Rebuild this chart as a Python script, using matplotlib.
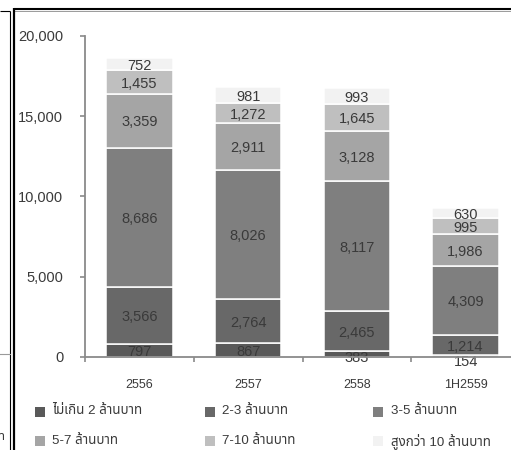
import matplotlib
matplotlib.use("Agg")
import matplotlib.pyplot as plt
import numpy as np
from matplotlib.lines import Line2D
from matplotlib.patches import Rectangle

# ---- data -------------------------------------------------------------
periods = ["2556", "2557", "2558", "1H2559"]
series_names = [
    "ไม่เกิน 2 ล้านบาท",
    "2-3 ล้านบาท",
    "3-5 ล้านบาท",
    "5-7 ล้านบาท",
    "7-10 ล้านบาท",
    "สูงกว่า 10 ล้านบาท",
]
under_2m = [797, 867, 383, 154]
from_2_to_3m = [3566, 2764, 2465, 1214]
from_3_to_5m = [8686, 8026, 8117, 4309]
from_5_to_7m = [3359, 2911, 3128, 1986]
from_7_to_10m = [1455, 1272, 1645, 995]
over_10m = [752, 981, 993, 630]
series_values = [under_2m, from_2_to_3m, from_3_to_5m,
                 from_5_to_7m, from_7_to_10m, over_10m]
series_colors = ["#595959", "#686868", "#7f7f7f", "#a5a5a5", "#bfbfbf", "#f2f2f2"]
y_ticks = [0, 5000, 10000, 15000, 20000]

# ---- styling ----------------------------------------------------------
NUM_FONT = ["Liberation Sans", "DejaVu Sans"]
THAI_FONT = ["Liberation Sans", "Noto Sans Thai", "DejaVu Sans"]
TEXT_COLOR = "#3a3a3a"
AXIS_COLOR = "#8a8a8a"

W, H = 511, 450
fig = plt.figure(figsize=(W / 100, H / 100), dpi=100)


def fx(px):
    return px / W


def fy(py):
    return 1 - py / H


ax = fig.add_axes([fx(85), fy(357), fx(520) - fx(85), fy(36) - fy(357)])
ax.set_xlim(-0.5, len(periods) - 0.5)
ax.set_ylim(0, 20000)

x = np.arange(len(periods))
bar_w = 0.61
bottom = np.zeros(len(periods))
fig.canvas.draw()
px_per_unit = (ax.transData.transform((0, 1000))[1] - ax.transData.transform((0, 0))[1]) / 1000
text_h_px = 11.0

for vals, color in zip(series_values, series_colors):
    vals = np.asarray(vals, dtype=float)
    ax.bar(x, vals, bar_w, bottom=bottom, color=color,
           edgecolor="white", linewidth=1.1, zorder=2)
    for xi, v, b in zip(x, vals, bottom):
        seg_px = v * px_per_unit
        shift_px = 1.8 + max(0.0, (text_h_px - seg_px) / 2)
        ax.annotate(f"{int(v):,}", xy=(xi, b + v / 2),
                    xytext=(0, -shift_px * 72 / 100), textcoords="offset points",
                    ha="center", va="center", fontsize=10.5,
                    family=NUM_FONT, color=TEXT_COLOR, zorder=3,
                    annotation_clip=False)
    bottom = bottom + vals

# axes
for side in ("top", "right"):
    ax.spines[side].set_visible(False)
for side in ("left", "bottom"):
    ax.spines[side].set_color(AXIS_COLOR)
    ax.spines[side].set_linewidth(1.3)
    ax.spines[side].set_zorder(4)

ax.set_yticks(y_ticks)
ax.set_yticklabels([f"{t:,}" for t in y_ticks], family=NUM_FONT,
                   fontsize=10.5, color=TEXT_COLOR)
ax.tick_params(axis="y", direction="out", length=3.6, width=1.2,
               color=AXIS_COLOR, pad=12)

ax.set_xticks(x)
ax.set_xticklabels(periods, family=NUM_FONT, fontsize=9, color=TEXT_COLOR)
ax.tick_params(axis="x", which="major", length=0, pad=16)
ax.set_xticks(np.arange(-0.5, len(periods)), minor=True)
ax.tick_params(axis="x", which="minor", direction="out", length=3.6,
               width=1.2, color=AXIS_COLOR)

# legend, laid out as a 3 x 2 grid under the plot
col_square_x = [35, 205, 373]
col_text_x = [52, 222, 391]
row_y = [411.5, 441]
sq = 10
for i, (name, color) in enumerate(zip(series_names, series_colors)):
    r, c = divmod(i, 3)
    fig.add_artist(Rectangle((fx(col_square_x[c]), fy(row_y[r] + sq / 2)),
                             fx(sq), fy(0) - fy(sq), transform=fig.transFigure,
                             facecolor=color, edgecolor="none"))
    fig.text(fx(col_text_x[c]), fy(row_y[r]), name, family=THAI_FONT,
             fontsize=9.6, color=TEXT_COLOR, ha="left", va="center")

# panel frames
frame = dict(transform=fig.transFigure, color="black", solid_capstyle="butt")
fig.add_artist(Line2D([fx(14), fx(511)], [fy(9), fy(9)], linewidth=1.5, **frame))
fig.add_artist(Line2D([fx(14), fx(511)], [fy(10.5), fy(10.5)], linewidth=0.7,
                      transform=fig.transFigure, color="#9a9a9a"))
fig.add_artist(Line2D([fx(14.3), fx(14.3)], [fy(8.3), fy(450)], linewidth=1.6, **frame))
fig.add_artist(Line2D([fx(10.3), fx(10.3)], [fy(11), fy(450)], linewidth=0.8, **frame))
fig.add_artist(Line2D([fx(0), fx(10.3)], [fy(11), fy(11)], linewidth=0.8, **frame))
fig.add_artist(Line2D([fx(0), fx(9.5)], [fy(354), fy(354)], linewidth=0.8,
                      transform=fig.transFigure, color="#9a9a9a"))
fig.text(fx(5.5), fy(437), "ล้านบาท", family=THAI_FONT, fontsize=9,
         color=TEXT_COLOR, ha="right", va="center")

fig.savefig("out.png", dpi=100)
